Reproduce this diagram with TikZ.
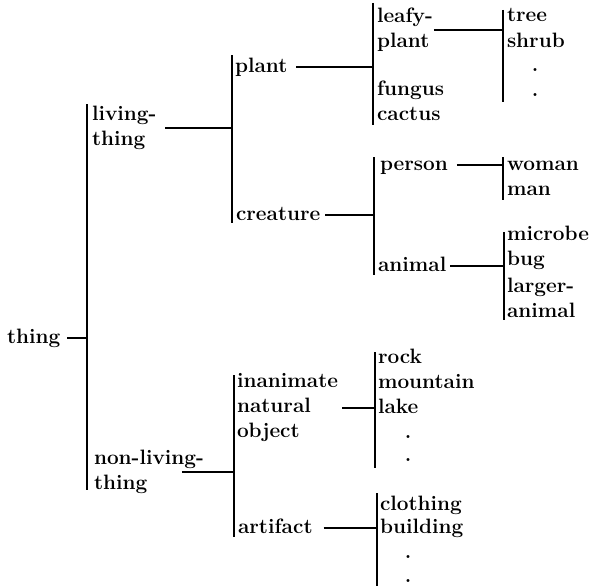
\documentclass[tikz,border=0pt]{standalone}
\usepackage{tikz}
\usetikzlibrary{calc}
\newcommand{\txfont}{\fontsize{20.8}{25}\selectfont\bfseries}
\tikzset{
 tx word/.style={anchor=west,inner sep=0pt,outer sep=0pt,font=\txfont,
                 text height=14pt,text depth=4pt},
 tx multi/.style={anchor=west,inner sep=0pt,outer sep=0pt,font=\txfont,
                  align=left},
 tx dot/.style={inner sep=0pt,outer sep=0pt,font=\txfont},
 tx bar/.style={line width=1.4pt},
 tx link/.style={line width=1.2pt}
}
\begin{document}
\begin{tikzpicture}[x=1pt,y=-1pt]
 \useasboundingbox (0,0) rectangle (593,586);

 % vertical brackets
 \foreach \b/\x/\t/\e in {a/87/104/490, b/232/55/223, c/234/375/537,
     d/373/3/125, e/503/10/102, f/374/157/275, g/503/157/200,
     h/504/232/320, i/375/352/468, j/377/493/586}
 {
   \coordinate (top \b) at (\x,\t);
   \coordinate (bot \b) at (\x,\e);
   \draw[tx bar] (top \b) -- (bot \b);
 }

 \node[tx word] (thing) at (7,338) {thing};

 \node[tx multi] (living) at (92,128) {living-\\thing};
 \node[tx multi] (nonliving) at (94,472) {non-living-\\thing};

 \node[tx word] (plant) at (235,67) {plant};
 \node[tx word] (creature) at (236,215) {creature};
 \node[tx multi] (inanimate) at (237,408) {inanimate\\natural\\object};
 \node[tx word] (artifact) at (238,528) {artifact};

 \node[tx multi] (leafy) at (377,30) {leafy-\\plant};
 \node[tx word] (fungus) at (377,90) {fungus};
 \node[tx word] (cactus) at (377,115) {cactus};
 \node[tx word] (person) at (380,165) {person};
 \node[tx word] (animal) at (378,266) {animal};

 \node[tx word] (tree) at (507,17) {tree};
 \node[tx word] (shrub) at (507,43) {shrub};
 \node[tx dot] (tree dot1) at (535,70) {.};
 \node[tx dot] (tree dot2) at (535,95) {.};
 \node[tx word] (woman) at (507,165) {woman};
 \node[tx word] (man) at (507,190) {man};
 \node[tx word] (microbe) at (507,235) {microbe};
 \node[tx word] (bug) at (507,260) {bug};
 \node[tx multi] (larger) at (507,297.5) {larger-\\animal};

 \node[tx word] (rock) at (378,358) {rock};
 \node[tx word] (mountain) at (378,383) {mountain};
 \node[tx word] (lake) at (378,408) {lake};
 \node[tx dot] (lake dot1) at (408,437) {.};
 \node[tx dot] (lake dot2) at (408,460) {.};
 \node[tx word] (clothing) at (380,505) {clothing};
 \node[tx word] (building) at (380,528) {building};
 \node[tx dot] (building dot1) at (408,557) {.};
 \node[tx dot] (building dot2) at (408,581) {.};

 % links to the brackets
 \draw[tx link] ([xshift=7pt]thing.east) -- (thing.east -| top a);
 \draw[tx link] ([xshift=9pt]living.east) -- (living.east -| top b);
 \draw[tx link] ([xshift=-22pt]nonliving.east) -- (nonliving.east -| top c);
 \draw[tx link] ([xshift=9pt]plant.east) -- (plant.east -| top d);
 \draw[tx link] ([xshift=5pt]creature.east) -- (creature.east -| top f);
 \draw[tx link] ([xshift=4pt]inanimate.east) -- (inanimate.east -| top i);
 \draw[tx link] ([xshift=11pt]artifact.east) -- (artifact.east -| top j);
 \draw[tx link] ([xshift=1pt]leafy.east) -- (leafy.east -| top e);
 \draw[tx link] ([xshift=9pt]person.east) -- (person.east -| top g);
 \draw[tx link] ([xshift=4pt]animal.east) -- (animal.east -| top h);
\end{tikzpicture}
\end{document}
